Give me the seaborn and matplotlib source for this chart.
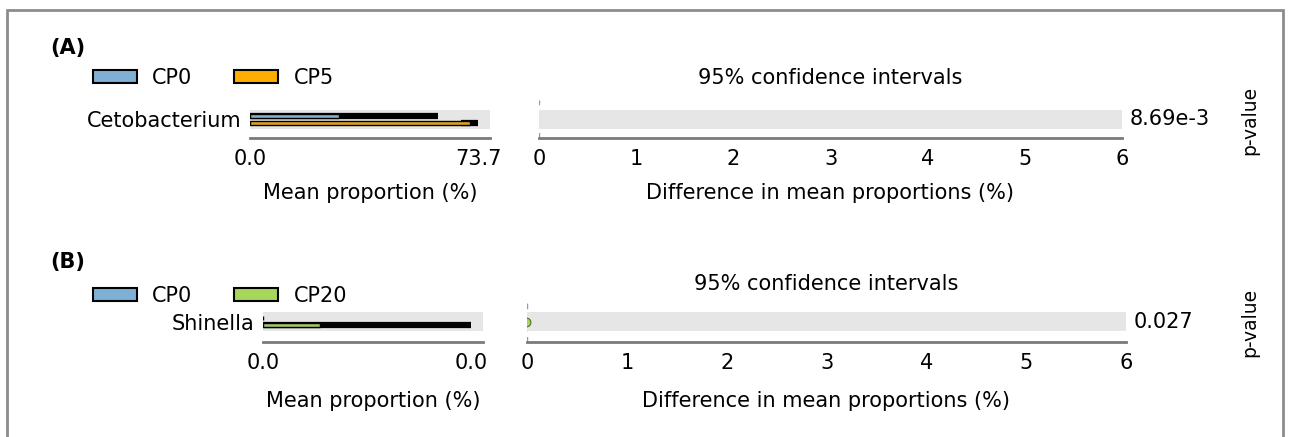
import matplotlib
matplotlib.use("Agg")
import matplotlib.pyplot as plt
from matplotlib.patches import Patch, Rectangle
from matplotlib.transforms import blended_transform_factory
import numpy as np
import pandas as pd
import seaborn as sns

# ---- data -------------------------------------------------------------
# panel A
a_feature = ["Cetobacterium"]
a_groups = ["CP0", "CP5"]
a_colors = ["#7eb0d5", "#ffad00"]
a_means = [28.8, 71.0]
a_sd = [32.0, 2.7]
a_prop_ticks = [0.0, 73.7]
a_diff = [a_means[0] - a_means[1]]
a_pvalue = ["8.69e-3"]

# panel B
b_feature = ["Shinella"]
b_groups = ["CP0", "CP20"]
b_colors = ["#7eb0d5", "#a6d75b"]
b_means = [0.0, 0.011]
b_sd = [0.0, 0.029]
b_prop_ticks = [0.0, 0.04]
b_diff = [b_means[0] - b_means[1]]
b_pvalue = ["0.027"]

diff_ticks = [0, 1, 2, 3, 4, 5, 6]

# ---- figure -----------------------------------------------------------
W, H = 1292, 437
sns.set_theme(style="white")
plt.rcParams["font.family"] = ["DejaVu Sans"]
plt.rcParams["text.color"] = "black"
plt.rcParams["axes.labelcolor"] = "black"
plt.rcParams["xtick.labelcolor"] = "black"
plt.rcParams["ytick.labelcolor"] = "black"
fig = plt.figure(figsize=(W / 100, H / 100), dpi=100)

FS = 15
SPINE = "#7a7a7a"
BAND = "#e6e6e6"


def rect(x0, y0, x1, y1):
    return [x0 / W, 1 - y1 / H, (x1 - x0) / W, (y1 - y0) / H]


def style_axis(ax, ylim):
    for s in ["top", "left", "right"]:
        ax.spines[s].set_visible(False)
    ax.spines["bottom"].set_color(SPINE)
    ax.spines["bottom"].set_linewidth(2)
    ax.tick_params(axis="x", direction="in", length=7, width=1.2,
                   color="#909090", labelsize=FS, pad=8)
    ax.set_ylim(*ylim)
    ax.axhspan(-0.5, 0.5, color=BAND, zorder=0.5, lw=0)
    ax.set_facecolor("white")


def panel(tag, tag_y, legend_y, title_y, feature, groups, colors, means, sd,
          prop_ticks, diff, pvalue, lx0, lx1, rx0, rx1, band_top, spine_y,
          xlabel_pad):
    unit = 19.0  # pixels per category unit
    ylim = (0.5 + (spine_y - band_top - unit) / unit, -0.5 - 10 / unit)
    top_px = band_top - 10

    # mean proportions
    axl = fig.add_axes(rect(lx0, top_px, lx1, spine_y))
    df = pd.DataFrame({"feature": feature * len(groups),
                       "group": groups, "mean": means})
    sns.barplot(data=df, x="mean", y="feature", hue="group",
                hue_order=groups, palette=colors, orient="h",
                width=0.7, gap=0.45, edgecolor="black", linewidth=1,
                errorbar=None, legend=False, ax=axl, zorder=3)
    offs = [-0.175, 0.175]
    for m, s, o in zip(means, sd, offs):
        if s > 0:
            axl.errorbar(m, o, xerr=s, fmt="none", ecolor="black",
                         elinewidth=4.5, capsize=0, zorder=2)
    style_axis(axl, ylim)
    span = prop_ticks[1] * (lx1 - lx0) / (lx1 - lx0 - 12)
    axl.set_xlim(0, span)
    axl.set_xticks(prop_ticks)
    axl.set_xticklabels([f"{t:.1f}" for t in prop_ticks])
    axl.tick_params(axis="y", length=0, labelsize=FS, pad=6)
    axl.set_ylabel("")
    axl.set_xlabel("Mean proportion (%)", fontsize=FS, labelpad=xlabel_pad)

    # difference in mean proportions
    axr = fig.add_axes(rect(rx0, top_px, rx1, spine_y))
    style_axis(axr, ylim)
    axr.axvline(0, color="#9a9a9a", lw=1, ls=(0, (4, 4)), zorder=0.2)
    hi = int(np.argmax(means))
    axr.scatter(diff, [0], s=40, color=colors[hi], edgecolor="#556b2f",
                lw=0.8, zorder=4, clip_on=True)
    axr.set_xlim(diff_ticks[0], diff_ticks[-1])
    axr.set_xticks(diff_ticks)
    axr.set_yticks([])
    axr.set_xlabel("Difference in mean proportions (%)", fontsize=FS,
                   labelpad=xlabel_pad)
    tr = blended_transform_factory(axr.transAxes, axr.transData)
    axr.text(1 + 8 / (rx1 - rx0), 0, pvalue[0], transform=tr,
             fontsize=FS, va="center", ha="left")
    fig.text(1250 / W, 1 - (band_top + 10) / H, "p-value", rotation=90,
             fontsize=13.5, ha="center", va="center")
    fig.text((rx0 + rx1) / 2 / W, 1 - title_y / H,
             "95% confidence intervals", fontsize=FS, ha="center",
             va="center")

    # panel tag and legend
    fig.text(50 / W, 1 - tag_y / H, tag, fontsize=FS, fontweight="bold",
             ha="left", va="center")
    handles = [Patch(facecolor=c, edgecolor="black", lw=1.5) for c in colors]
    fig.legend(handles, groups, ncol=2, frameon=False, fontsize=FS,
               loc="center left",
               bbox_to_anchor=(74 / W, 1 - legend_y / H),
               handlelength=2.1, handleheight=0.55, handletextpad=0.75,
               columnspacing=2.0)


panel("(A)", 48, 78, 78, a_feature, a_groups, a_colors, a_means, a_sd,
      a_prop_ticks, a_diff, a_pvalue, 250, 490, 539, 1122, 110, 138, 10)
panel("(B)", 262, 296, 284, b_feature, b_groups, b_colors, b_means, b_sd,
      b_prop_ticks, b_diff, b_pvalue, 263, 483, 527, 1126, 312, 342, 13)

# outer frame
fig.add_artist(Rectangle((7 / W, -0.05), (1283 - 7) / W, 1.05 - 10 / H,
                         transform=fig.transFigure, fill=False,
                         edgecolor="#8c8c8c", lw=2))

fig.savefig("out.png", dpi=100)
